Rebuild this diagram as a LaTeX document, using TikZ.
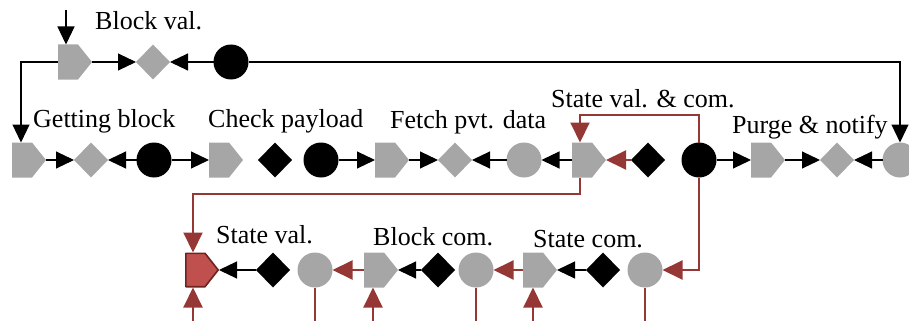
\documentclass[tikz,border=0pt]{standalone}
\usepackage{fontspec}
\setmainfont{Liberation Serif}
\usetikzlibrary{arrows.meta}
\definecolor{gfill}{HTML}{A6A6A6}
\definecolor{rline}{HTML}{953734}
\definecolor{rfill}{HTML}{C0504D}
\definecolor{rborder}{HTML}{6B2420}
\tikzset{
  box/.style={rectangle, minimum width=34pt, minimum height=35pt, inner sep=0pt, outer sep=0pt},
  gcirc/.style={circle, minimum size=35pt, inner sep=0pt, outer sep=0pt, fill=gfill},
  bcirc/.style={gcirc, fill=black},
  conn/.style={line width=1.1pt, draw=black, -{Triangle[length=18pt,width=17pt]}},
  rconn/.style={line width=2pt, draw=rline, -{Triangle[length=20pt,width=19pt]}},
  rplain/.style={line width=2pt, draw=rline},
  lbl/.style={font=\fontsize{26}{30}\selectfont, inner sep=0pt, anchor=base west}
}
\newcommand{\pentfill}[2]{\fill[#2] (#1.north west) -- ([xshift=-14pt]#1.north east) -- (#1.east) -- ([xshift=-14pt]#1.south east) -- (#1.south west) -- cycle;}
\newcommand{\diafill}[2]{\fill[#2] (#1.north) -- (#1.east) -- (#1.south) -- (#1.west) -- cycle;}
\begin{document}
\begin{tikzpicture}[x=1pt,y=-1pt]
\useasboundingbox (0,0) rectangle (909,321);
% Row 1
\node[box] (p1) at (75,62) {};
\node[box] (d1) at (153,62) {};
\node[bcirc] (c1) at (231,62) {};
% Row 2
\node[box] (p2) at (29,160) {};
\node[box] (d2) at (91,160) {};
\node[bcirc] (c2) at (154,160) {};
\node[box] (p3) at (226,160) {};
\node[box] (d3) at (275,160) {};
\node[bcirc] (c3) at (321,160) {};
\node[box] (p4) at (392,160) {};
\node[box] (d4) at (455,160) {};
\node[gcirc] (c4) at (524,160) {};
\node[box] (p5) at (589,160) {};
\node[box] (d5) at (648,160) {};
\node[bcirc] (c5) at (699,160) {};
\node[box] (p6) at (768,160) {};
\node[box] (d6) at (837,160) {};
\node[gcirc] (c6) at (900,160) {};
% Row 3
\node[box] (p7) at (202,270) {};
\node[box] (d7) at (273,270) {};
\node[gcirc] (c7) at (315,270) {};
\node[box] (p8) at (381,270) {};
\node[box] (d8) at (438,270) {};
\node[gcirc] (c8) at (476,270) {};
\node[box] (p9) at (540,270) {};
\node[box] (d9) at (603,270) {};
\node[gcirc] (c9) at (645,270) {};
% Shapes
\foreach \n in {p1,p2,p3,p4,p5,p6,p8,p9} {\pentfill{\n}{gfill}}
\foreach \n in {d1,d2,d4,d6} {\diafill{\n}{gfill}}
\foreach \n in {d3,d5,d7,d8,d9} {\diafill{\n}{black}}
\draw[fill=rfill, draw=rborder, line width=1.6pt, line join=round]
  ([shift={(0.8,0.8)}]p7.north west) -- ([shift={(-14,0.8)}]p7.north east) -- ([xshift=-0.8pt]p7.east)
  -- ([shift={(-14,-0.8)}]p7.south east) -- ([shift={(0.8,-0.8)}]p7.south west) -- cycle;
% Labels
\node[lbl] (t1) at (95,30) {Block val.};
\node[lbl] (t2) at (33,127) {Getting block};
\node[lbl] (t3) at (208,127) {Check payload};
\node[lbl] (t4) at (390,128) {Fetch pvt. data};
\node[lbl] (t5) at (551,107) {State val. \& com.};
\node[lbl] (t6) at (732,133) {Purge \& notify};
\node[lbl] (t7) at (216,243) {State val.};
\node[lbl] (t8) at (373,245) {Block com.};
\node[lbl] (t9) at (533,247) {State com.};
% Coordinates
\coordinate (in1) at (66,10);
\coordinate (l1) at (21,62);
\coordinate (r1) at (900,62);
\coordinate (rt1) at (699,115);
\coordinate (rt2) at (580,115);
\coordinate (rb1) at (580,194);
\coordinate (rb2) at (193,194);
\coordinate (rr) at (699,270);
\coordinate (b1) at (193,321);
\coordinate (b2) at (315,321);
\coordinate (b3) at (373,321);
\coordinate (b4) at (476,321);
\coordinate (b5) at (533,321);
\coordinate (b6) at (645,321);
% Black connectors
\draw[conn] (in1) -- (in1 |- p1.north);
\draw[conn] (p1.east) -- (d1.west);
\draw[conn] (c1.west) -- (d1.east);
\draw[conn] (p1.west) -- (l1) -- (l1 |- p2.north);
\draw[conn] (c1.east) -- (r1) -- (c6.north);
\draw[conn] (p2.east) -- (d2.west);
\draw[conn] (c2.west) -- (d2.east);
\draw[conn] (c2.east) -- (p3.west);
\draw[conn] (c3.east) -- (p4.west);
\draw[conn] (p4.east) -- (d4.west);
\draw[conn] (c4.west) -- (d4.east);
\draw[conn] (p5.west) -- (c4.east);
\draw[conn] (c5.east) -- (p6.west);
\draw[conn] (p6.east) -- (d6.west);
\draw[conn] (c6.west) -- (d6.east);
\draw[conn] (d7.west) -- (p7.east);
\draw[conn] (d8.west) -- (p8.east);
\draw[conn] (d9.west) -- (p9.east);
% Red connectors
\draw[rconn] (d5.west) -- (p5.east);
\draw[rconn] (c5.north) -- (rt1) -- (rt2) -- (rt2 |- p5.north);
\draw[rconn] (rb1 |- p5.south) -- (rb1) -- (rb2) -- (rb2 |- p7.north);
\draw[rconn] (c5.south) -- (rr) -- (c9.east);
\draw[rconn] (p8.west) -- (c7.east);
\draw[rconn] (p9.west) -- (c8.east);
\draw[rconn] (b1) -- (b1 |- p7.south);
\draw[rconn] (b3) -- (b3 |- p8.south);
\draw[rconn] (b5) -- (b5 |- p9.south);
\draw[rplain] (c7.south) -- (b2);
\draw[rplain] (c8.south) -- (b4);
\draw[rplain] (c9.south) -- (b6);
\end{tikzpicture}
\end{document}
